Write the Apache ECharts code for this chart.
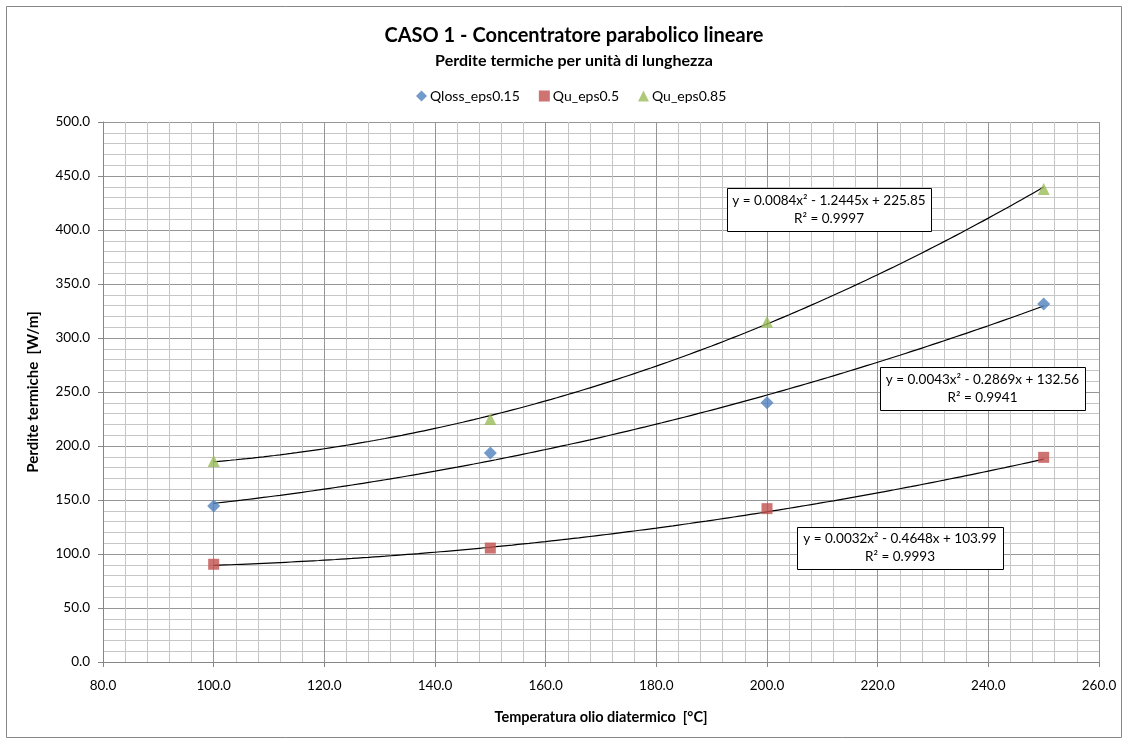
<!DOCTYPE html>
<html>
<head>
<meta charset="utf-8">
<script src="https://cdn.jsdelivr.net/npm/echarts@6/dist/echarts.min.js"></script>
<style>
html,body{margin:0;padding:0;background:#fff;}
#c{width:1124px;height:740px;}
</style>
</head>
<body>
<div id="c"></div>
<script>
// ---- data ----
var temps = [100, 150, 200, 250];
var qlossEps015 = [144.5, 193.5, 240, 331.5];
var quEps05 = [90.5, 105.5, 142, 189.5];
var quEps085 = [186, 225, 315, 438];
var seriesNames = ['Qloss_eps0.15', 'Qu_eps0.5', 'Qu_eps0.85'];
// trendline polynomial coefficients as printed on the chart: [a2, a1, a0]
var fitEps015 = [0.0043, -0.2869, 132.56];
var fitEps05 = [0.0032, -0.4648, 103.99];
var fitEps085 = [0.0084, -1.2445, 225.85];
var eqLabels = [
  'y = 0.0084x² - 1.2445x + 225.85\nR² = 0.9997',
  'y = 0.0043x² - 0.2869x + 132.56\nR² = 0.9941',
  'y = 0.0032x² - 0.4648x + 103.99\nR² = 0.9993'
];
var xTicks = [80, 260, 20];
var yTicks = [0, 500, 50];

function pairs(xs, ys){ return xs.map(function(x,i){ return [x, ys[i]]; }); }
function trend(c){
  var out = [];
  for (var x = temps[0]; x <= temps[temps.length-1]; x += 1) {
    out.push([x, c[0]*x*x + c[1]*x + c[2]]);
  }
  return out;
}

var FONT = 'Lato, "Open Sans", sans-serif';
var colors = ['#4F81BD', '#C0504D', '#9BBB59'];

function trendSeries(c){
  return { type:'line', data: trend(c), showSymbol:false, symbol:'none', silent:true,
    lineStyle:{ color:'#000', width:1.2 }, z:3, animation:false };
}
function box(x,y,w,h,txt){
  return [
    { type:'rect', left:x, top:y, shape:{width:w,height:h}, z:100,
      style:{ fill:'#fff', stroke:'#000', lineWidth:1 } },
    { type:'text', x:x+w/2, y:y+h/2, z:101,
      style:{ text:txt, font:'13.5px '+FONT, fill:'#000', textAlign:'center', textVerticalAlign:'middle', lineHeight:18 } }
  ];
}

var chart = echarts.init(document.getElementById('c'), null, {renderer:'canvas'});
chart.setOption({
  animation:false,
  backgroundColor:'#fff',
  title:[
    { text:'CASO 1 - Concentratore parabolico lineare', left:569, top:21, textAlign:'center',
      textStyle:{ fontFamily:FONT, fontSize:20, fontWeight:'bold', color:'#000' } },
    { text:'Perdite termiche per unità di lunghezza', left:569, top:48, textAlign:'center',
      textStyle:{ fontFamily:FONT, fontSize:16, fontWeight:'bold', color:'#000' } }
  ],
  legend:{
    data:[
      {name:seriesNames[0], icon:'diamond'},
      {name:seriesNames[1], icon:'rect'},
      {name:seriesNames[2], icon:'triangle'}
    ],
    top:84, left:411, itemWidth:11, itemHeight:11, itemGap:19,
    textStyle:{ fontFamily:FONT, fontSize:14, color:'#000', padding:[0,0,0,-2] }
  },
  grid:{ left:103, right:25, top:122, bottom:78, containLabel:false },
  xAxis:{
    type:'value', min:xTicks[0], max:xTicks[1], interval:xTicks[2],
    name:'Temperatura olio diatermico  [°C]', nameLocation:'middle', nameGap:48,
    nameTextStyle:{ fontFamily:FONT, fontSize:14.5, fontWeight:'bold', color:'#000' },
    axisLine:{ show:true, lineStyle:{ color:'#868686', width:1 } },
    axisTick:{ show:true, length:5, lineStyle:{ color:'#868686' } },
    axisLabel:{ formatter:function(v){ return v.toFixed(1); }, fontFamily:FONT, fontSize:13.5, color:'#000', margin:17 },
    splitLine:{ show:true, lineStyle:{ color:'#969696', width:1 } },
    minorTick:{ show:false, splitNumber:5 },
    minorSplitLine:{ show:true, lineStyle:{ color:'#c6c6c6', width:1 } }
  },
  yAxis:{
    type:'value', min:yTicks[0], max:yTicks[1], interval:yTicks[2],
    name:'Perdite termiche  [W/m]', nameLocation:'middle', nameGap:62,
    nameTextStyle:{ fontFamily:FONT, fontSize:15, fontWeight:'bold', color:'#000' },
    axisLine:{ show:true, lineStyle:{ color:'#868686', width:1 } },
    axisTick:{ show:true, length:5, lineStyle:{ color:'#868686' } },
    axisLabel:{ formatter:function(v){ return v.toFixed(1); }, fontFamily:FONT, fontSize:13.5, color:'#000', margin:13 },
    splitLine:{ show:true, lineStyle:{ color:'#969696', width:1 } },
    minorTick:{ show:false, splitNumber:5 },
    minorSplitLine:{ show:true, lineStyle:{ color:'#c6c6c6', width:1 } }
  },
  series:[
    { name:seriesNames[0], type:'scatter', data:pairs(temps, qlossEps015), symbol:'diamond', symbolSize:[13,13],
      itemStyle:{ color:colors[0] }, z:4 },
    { name:seriesNames[1], type:'scatter', data:pairs(temps, quEps05), symbol:'rect', symbolSize:11,
      itemStyle:{ color:colors[1] }, z:4 },
    { name:seriesNames[2], type:'scatter', data:pairs(temps, quEps085), symbol:'triangle', symbolSize:12,
      itemStyle:{ color:colors[2] }, z:4 },
    trendSeries(fitEps085),
    trendSeries(fitEps015),
    trendSeries(fitEps05)
  ],
  graphic:[].concat(
    [{ type:'rect', left:4, top:4, shape:{width:1115,height:731}, silent:true, z:-1,
       style:{ fill:'none', stroke:'#868686', lineWidth:1 } }],
    box(727,188,204,43,eqLabels[0]),
    box(880,367,205,43,eqLabels[1]),
    box(797,527,206,42,eqLabels[2])
  )
});
</script>
</body>
</html>
